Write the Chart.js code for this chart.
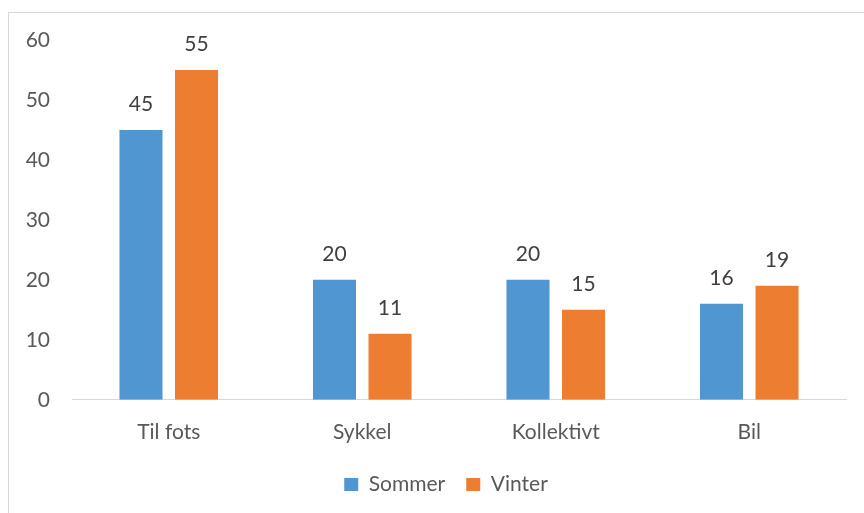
<!DOCTYPE html>
<html>
<head>
<meta charset="utf-8">
<script src="https://cdn.jsdelivr.net/npm/chart.js@4.4.1/dist/chart.umd.min.js"></script>
<style>
  html, body { margin: 0; padding: 0; background: #fff; }
  #wrap { position: relative; width: 864px; height: 513px; }
</style>
</head>
<body>
<div id="wrap"><canvas id="chart"></canvas></div>
<script>
  // data
  const categories = ["Til fots", "Sykkel", "Kollektivt", "Bil"];
  const sommer = [45, 20, 20, 16];
  const vinter = [55, 11, 15, 19];
  const yTicks = [0, 10, 20, 30, 40, 50, 60];

  const FONT = "Lato, 'Open Sans', sans-serif";
  const TEXT = "#595959";

  // thin grey frame round the chart, like the office chart area
  const framePlugin = {
    id: "frame",
    beforeDraw(chart) {
      const { ctx, width, height } = chart;
      ctx.save();
      ctx.strokeStyle = "#d9d9d9";
      ctx.lineWidth = 1;
      ctx.strokeRect(8.5, 12.5, width + 10, height + 10);
      ctx.restore();
    },
    // office centres the legend under the plot, not the whole canvas
    afterLayout(chart) {
      const lg = chart.legend;
      if (!lg) return;
      const shift = 23;
      lg.left += shift;
      lg.right += shift;
    }
  };

  // value labels above each bar
  const valueLabels = {
    id: "valueLabels",
    afterDatasetsDraw(chart) {
      const { ctx } = chart;
      ctx.save();
      ctx.font = "21px " + FONT;
      ctx.fillStyle = "#404040";
      ctx.textAlign = "center";
      ctx.textBaseline = "middle";
      chart.data.datasets.forEach((ds, i) => {
        chart.getDatasetMeta(i).data.forEach((bar, j) => {
          ctx.fillText(String(ds.data[j]), bar.x, bar.y - 26);
        });
      });
      ctx.restore();
    }
  };

  new Chart(document.getElementById("chart"), {
    type: "bar",
    data: {
      labels: categories,
      datasets: [
        { label: "Sommer", data: sommer, backgroundColor: "#5096d1", categoryPercentage: 0.574, barPercentage: 0.775 },
        { label: "Vinter", data: vinter, backgroundColor: "#ed7d31", categoryPercentage: 0.574, barPercentage: 0.775 }
      ]
    },
    options: {
      responsive: true,
      maintainAspectRatio: false,
      animation: false,
      layout: { padding: { top: 40, right: 18, bottom: 8, left: 0 } },
      plugins: {
        legend: {
          position: "bottom",
          labels: {
            color: TEXT,
            font: { family: FONT, size: 21 },
            boxWidth: 14, boxHeight: 13,
            padding: 21
          }
        },
        tooltip: { enabled: false }
      },
      scales: {
        x: {
          afterFit(scale) { scale.height = scale.height - 12; },
          grid: { display: false, drawTicks: false },
          border: { display: true, color: "#d9d9d9", width: 1 },
          ticks: { color: TEXT, font: { family: FONT, size: 21 }, padding: 20 }
        },
        y: {
          min: 0, max: 60,
          afterFit(scale) { scale.width = 72; },
          afterBuildTicks(scale) { scale.ticks = yTicks.map(v => ({ value: v })); },
          grid: { display: false, drawTicks: false },
          border: { display: false },
          ticks: { color: TEXT, font: { family: FONT, size: 21 }, padding: 22 }
        }
      }
    },
    plugins: [framePlugin, valueLabels]
  });
</script>
</body>
</html>
